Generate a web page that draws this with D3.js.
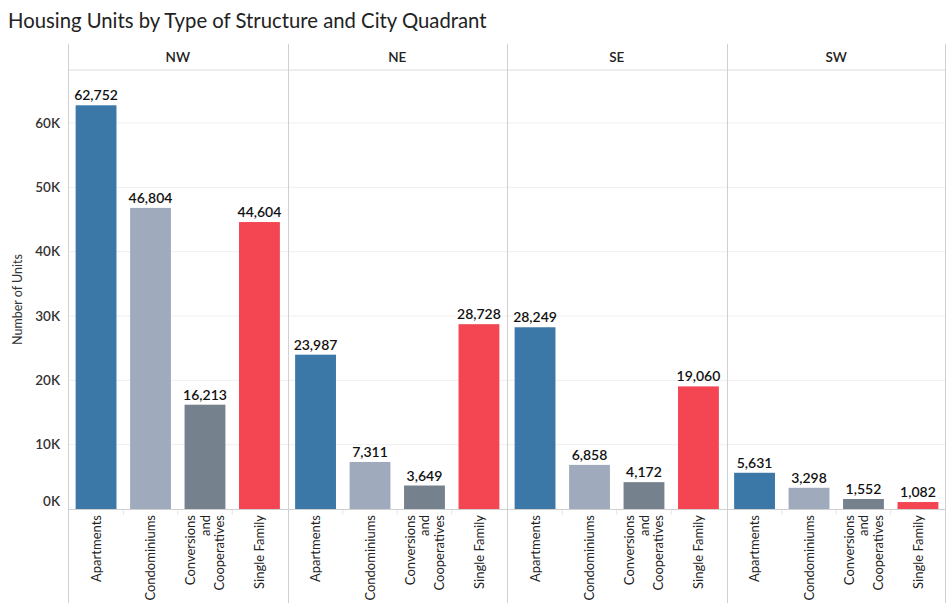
<!DOCTYPE html>
<html><head><meta charset="utf-8">
<script src="https://cdn.jsdelivr.net/npm/d3@7"></script>
<style>body{margin:0;background:#fff;} svg{display:block;font-family:Lato,"Open Sans",sans-serif;}</style>
</head><body>
<svg id="c" width="947" height="603"></svg>
<script>
const quadrants = ["NW","NE","SE","SW"];
const types = ["Apartments","Condominiums","Conversions and Cooperatives","Single Family"];
const typeLabels = [["Apartments"],["Condominiums"],["Conversions","and","Cooperatives"],["Single Family"]];
const valuesNW = [62752, 46804, 16213, 44604];
const valuesNE = [23987, 7311, 3649, 28728];
const valuesSE = [28249, 6858, 4172, 19060];
const valuesSW = [5631, 3298, 1552, 1082];
const seriesValues = [valuesNW, valuesNE, valuesSE, valuesSW];
const yTicks = [0,10000,20000,30000,40000,50000,60000];
const colors = ["#3b78a7","#9fabbd","#76818e","#f34552"];

(function(){
const svg = d3.select("#c");
const pLeft = 68, pRight = 946, pTop = 70, pBottom = 509, headerTop = 44;

svg.append("text").attr("x",8).attr("y",28).attr("font-size",20.3).attr("fill","#222")
  .text("Housing Units by Type of Structure and City Quadrant");

const fx = d3.scaleBand().domain(quadrants).range([pLeft,pRight]);
const x = d3.scaleBand().domain(types).range([0,fx.bandwidth()]).paddingInner(0.25).paddingOuter(0.14);
const y = d3.scaleLinear().domain([0,60000]).range([pBottom, pBottom - 386]);

// gridlines
svg.append("g").selectAll("line").data(yTicks.filter(d=>d>0)).join("line")
  .attr("x1",pLeft).attr("x2",pRight).attr("y1",d=>y(d)).attr("y2",d=>y(d))
  .attr("stroke","#efefef").attr("stroke-width",1);

// y axis labels
const yAxis = d3.axisLeft(y).tickValues(yTicks).tickFormat(d=>(d/1000)+"K").tickSize(0).tickPadding(8);
const ga = svg.append("g").attr("transform",`translate(${pLeft},0)`).call(yAxis);
ga.select(".domain").remove();
ga.selectAll("text").attr("font-size",13.5).attr("font-weight",600).attr("fill","#333")
  .attr("font-family","Lato,'Open Sans',sans-serif")
  .attr("dy",d=>d===0?"-0.25em":"0.32em");

svg.append("text").attr("transform",`translate(22,${(pTop+pBottom)/2+10}) rotate(-90)`)
  .attr("text-anchor","middle").attr("font-size",12.5).attr("fill","#333").text("Number of Units");

// panels
quadrants.forEach((q,qi)=>{
  const g = svg.append("g").attr("transform",`translate(${fx(q)},0)`);
  svg.append("text").attr("x",fx(q)+fx.bandwidth()/2).attr("y",62).attr("text-anchor","middle")
    .attr("font-size",13.5).attr("font-weight",600).attr("fill","#222").text(q);
  const data = types.map((t,i)=>({t,i,v:seriesValues[qi][i]}));
  g.selectAll("rect").data(data).join("rect")
    .attr("x",d=>x(d.t)).attr("width",x.bandwidth())
    .attr("y",d=>y(d.v)).attr("height",d=>y(0)-y(d.v))
    .attr("fill",d=>colors[d.i]);
  g.selectAll("text.val").data(data).join("text").attr("class","val")
    .attr("x",d=>x(d.t)+x.bandwidth()/2).attr("y",d=>y(d.v)-5)
    .attr("text-anchor","middle").attr("font-size",14).attr("font-weight",600).attr("fill","#111")
    .text(d=>d3.format(",")(d.v));
  // x labels
  data.forEach(d=>{
    const lines = typeLabels[d.i];
    const cx = x(d.t)+x.bandwidth()/2;
    const lh = 14.5;
    const t = g.append("text").attr("transform",`translate(${cx},515) rotate(-90)`)
      .attr("text-anchor","end").attr("font-size",13).attr("fill","#222");
    lines.forEach((l,li)=>{
      t.append("tspan").attr("x",0).attr("y",(li-(lines.length-1)/2)*lh).attr("dy","0.35em").text(l);
    });
  });
  // faint separators in label area
  types.slice(1).forEach(tp=>{
    const sx = x(tp) - (x.step()-x.bandwidth())/2;
    g.append("line").attr("x1",sx).attr("x2",sx).attr("y1",pBottom).attr("y2",pBottom+6)
      .attr("stroke","#e6e6e6");
  });
});

// frame lines
svg.append("line").attr("x1",pLeft).attr("x2",pRight).attr("y1",pTop).attr("y2",pTop).attr("stroke","#dcdcdc");
svg.append("line").attr("x1",pLeft).attr("x2",pRight).attr("y1",pBottom+0.5).attr("y2",pBottom+0.5).attr("stroke","#d0d0d0");
quadrants.forEach(q=>{
  svg.append("line").attr("x1",Math.round(fx(q))+0.5).attr("x2",Math.round(fx(q))+0.5).attr("y1",headerTop).attr("y2",603)
    .attr("stroke","#d0d0d0");
});
svg.append("line").attr("x1",pRight-0.5).attr("x2",pRight-0.5).attr("y1",headerTop).attr("y2",603).attr("stroke","#d0d0d0");
})();
</script>
</body></html>
